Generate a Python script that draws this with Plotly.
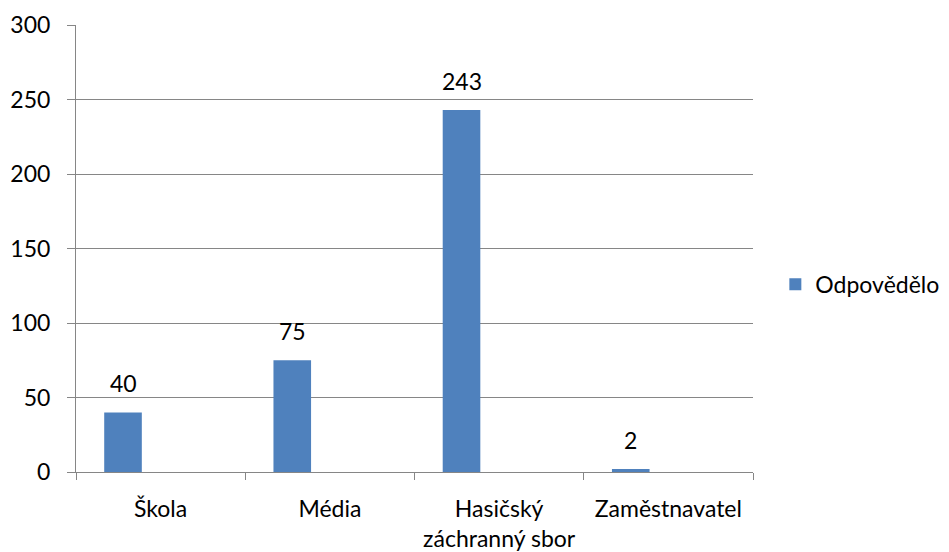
import plotly.graph_objects as go

categories = ["Škola", "Média", "Hasičský<br>záchranný sbor", "Zaměstnavatel"]
values = [40, 75, 243, 2]
series_name = "Odpovědělo"
y_ticks = [0, 50, 100, 150, 200, 250, 300]

BLUE = "#4F81BD"
GRID = "#868686"
FONT = dict(family="Lato, 'Open Sans', sans-serif", size=23, color="#000000")

# Excel-like layout: three slots per category, only the first is filled
bar_width = 1 / 4.5
bar_offset = -0.5 + 0.75 * bar_width

fig = go.Figure()
fig.add_trace(
    go.Bar(
        x=categories,
        y=values,
        name=series_name,
        width=bar_width,
        offset=bar_offset,
        marker=dict(color=BLUE, line=dict(width=0)),
        showlegend=True,
    )
)

# data labels above each bar
for i, v in enumerate(values):
    fig.add_annotation(
        x=i + bar_offset + bar_width / 2,
        y=v,
        xref="x",
        yref="y",
        text=str(v),
        showarrow=False,
        yanchor="middle",
        yshift=29,
        font=FONT,
    )

# page body has an 8px margin, so the figure is sized/offset to compensate
fig.update_layout(
    width=941,
    height=544,
    margin=dict(l=68, r=196, t=17, b=80, autoexpand=False),
    paper_bgcolor="white",
    plot_bgcolor="white",
    font=FONT,
    showlegend=True,
    legend=dict(
        x=1.033,
        y=0.42,
        xanchor="left",
        yanchor="middle",
        font=FONT,
        bgcolor="rgba(0,0,0,0)",
    ),
)

fig.update_xaxes(
    type="category",
    tickson="boundaries",
    ticks="outside",
    ticklen=7,
    tickcolor=GRID,
    showline=True,
    linecolor=GRID,
    linewidth=1,
    showgrid=False,
    tickfont=FONT,
    ticklabelstandoff=16,
    automargin=False,
)
fig.update_yaxes(
    range=[0, 300],
    tickvals=y_ticks,
    ticks="outside",
    ticklen=8,
    tickcolor=GRID,
    showline=True,
    linecolor=GRID,
    linewidth=1,
    showgrid=True,
    gridcolor=GRID,
    gridwidth=1,
    zeroline=False,
    tickfont=FONT,
    ticklabelstandoff=12,
    automargin=False,
)

fig.write_html("out.html")
